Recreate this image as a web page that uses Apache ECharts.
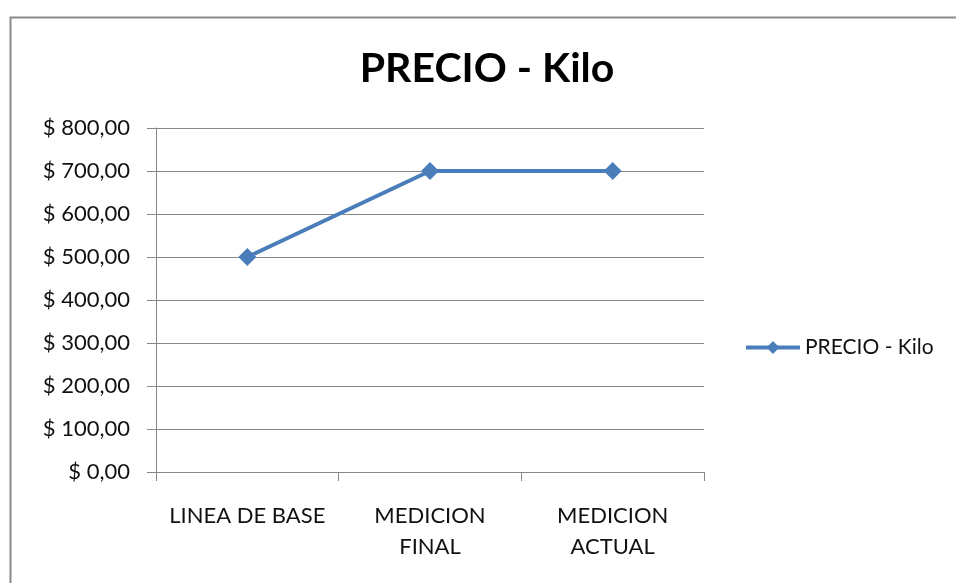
<!DOCTYPE html>
<html>
<head>
<meta charset="utf-8">
<script src="https://cdn.jsdelivr.net/npm/echarts@6/dist/echarts.min.js"></script>
<style>
html,body{margin:0;padding:0;background:#fff;}
#c{width:956px;height:583px;}
</style>
</head>
<body>
<div id="c"></div>
<script>
const titleText = 'PRECIO - Kilo';
const seriesName = 'PRECIO - Kilo';
const categories = ['LINEA DE BASE', 'MEDICION\nFINAL', 'MEDICION\nACTUAL'];
const values = [500, 700, 700];
const yMin = 0, yMax = 800, yInterval = 100;

const font = 'Lato, "Open Sans", sans-serif';
const chart = echarts.init(document.getElementById('c'), null, {renderer: 'canvas'});
chart.setOption({
  animation: false,
  backgroundColor: '#fff',
  graphic: [{
    type: 'rect', left: 8, top: 15, silent: true,
    shape: {width: 1000, height: 700},
    style: {fill: 'none', stroke: '#8a8a8a', lineWidth: 2}
  }],
  title: {
    text: titleText, left: 482, top: 43, textAlign: 'center',
    textStyle: {fontFamily: font, fontSize: 41, fontWeight: 'bold', color: '#000'}
  },
  legend: {
    left: 739, top: 332, itemWidth: 54, itemHeight: 16, itemGap: 5,
    textStyle: {fontFamily: font, fontSize: 21, color: '#111'},
    lineStyle: {width: 4},
    data: [seriesName]
  },
  grid: {left: 156, right: 252, top: 128, bottom: 111},
  xAxis: {
    type: 'category', data: categories, boundaryGap: true,
    axisLine: {lineStyle: {color: '#868686', width: 1}},
    axisTick: {show: true, length: 9, lineStyle: {color: '#868686'}},
    axisLabel: {fontFamily: font, fontSize: 22, color: '#111', margin: 28, lineHeight: 31, interval: 0}
  },
  yAxis: {
    type: 'value', min: yMin, max: yMax, interval: yInterval,
    axisLine: {show: true, lineStyle: {color: '#868686', width: 1}},
    axisTick: {show: true, length: 9, lineStyle: {color: '#868686'}},
    splitLine: {lineStyle: {color: '#868686', width: 1}},
    axisLabel: {
      fontFamily: font, fontSize: 22, color: '#111', margin: 26,
      formatter: v => '$ ' + v.toFixed(2).replace('.', ',')
    }
  },
  series: [{
    name: seriesName, type: 'line', data: values,
    symbol: 'diamond', symbolSize: 18,
    lineStyle: {color: '#4a7ebb', width: 4},
    itemStyle: {color: '#4a7ebb'}
  }]
});
</script>
</body>
</html>
